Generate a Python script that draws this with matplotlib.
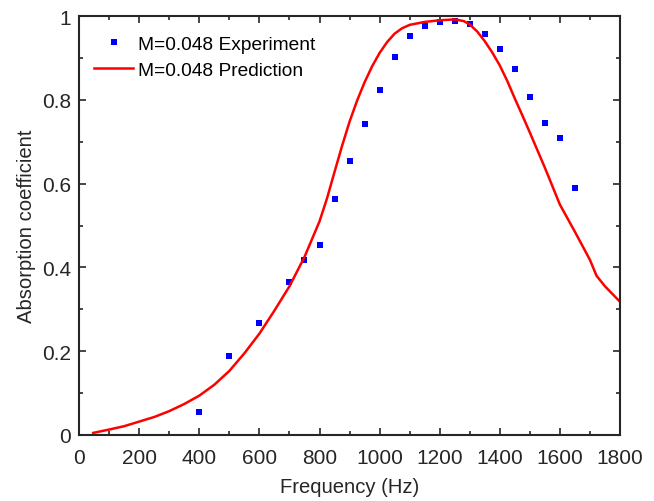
import matplotlib
matplotlib.use('Agg')
from matplotlib import pyplot as plt
from matplotlib.ticker import MultipleLocator
import numpy as np

# measured absorption (M=0.048)
exp_freq = [400, 500, 600, 700, 750, 800, 850, 900, 950, 1000, 1050, 1100,
            1150, 1200, 1250, 1300, 1350, 1400, 1450, 1500, 1550, 1600, 1650]
exp_alpha = [0.055, 0.189, 0.267, 0.365, 0.418, 0.453, 0.563, 0.654, 0.742,
             0.823, 0.902, 0.952, 0.977, 0.986, 0.988, 0.981, 0.957, 0.921,
             0.874, 0.807, 0.745, 0.709, 0.589]

# predicted curve
pred_freq = [47, 100, 150, 200, 250, 300, 350, 400, 450, 500, 550, 600, 650,
             700, 750, 800, 825, 850, 875, 900, 925, 950, 975, 1000, 1025, 1050,
             1075, 1100, 1150, 1200, 1250, 1280, 1300, 1325, 1350, 1375, 1400,
             1425, 1450, 1475, 1500, 1525, 1550, 1600, 1650, 1700, 1722, 1750,
             1800]
pred_alpha = [0.005, 0.013, 0.021, 0.032, 0.043, 0.057, 0.074, 0.094, 0.12,
              0.153, 0.195, 0.242, 0.297, 0.355, 0.425, 0.51, 0.565, 0.628,
              0.69, 0.748, 0.798, 0.842, 0.88, 0.912, 0.938, 0.958, 0.971,
              0.979, 0.986, 0.99, 0.992, 0.988, 0.98, 0.963, 0.94, 0.913,
              0.882, 0.845, 0.803, 0.763, 0.722, 0.68, 0.638, 0.55, 0.485,
              0.418, 0.38, 0.355, 0.318]

plt.rcParams['font.family'] = ['Liberation Sans', 'DejaVu Sans']

fig = plt.figure(figsize=(6.54, 5.02), dpi=100)
ax = fig.add_axes([0.121, 0.1315, 0.827, 0.8345])

ax.plot(exp_freq, exp_alpha, 's', color='#0000ff', markersize=5,
        markeredgewidth=0, label='M=0.048 Experiment')
ax.plot(pred_freq, pred_alpha, '-', color='#ff0000', linewidth=1.8,
        label='M=0.048 Prediction')

ax.set_xlim(0, 1800)
ax.set_ylim(0, 1)
ax.xaxis.set_major_locator(MultipleLocator(200))
ax.xaxis.set_minor_locator(MultipleLocator(100))
ax.set_yticks([0, 0.2, 0.4, 0.6, 0.8, 1.0], ['0', '0.2', '0.4', '0.6', '0.8', '1'])
ax.yaxis.set_minor_locator(MultipleLocator(0.1))

ax.tick_params(which='both', direction='in', top=True, right=True,
               color='#262626', labelsize=15, labelcolor='#262626')
ax.tick_params(which='major', length=5, width=1.2)
ax.tick_params(which='minor', length=3, width=1.2)
ax.tick_params(axis='x', which='both', pad=9.5)
ax.tick_params(axis='y', which='both', pad=6)
for s in ax.spines.values():
    s.set_linewidth(1.5)
    s.set_color('#262626')

ax.set_xlabel('Frequency (Hz)', fontsize=14.6, color='#262626', labelpad=7)
ax.set_ylabel('Absorption coefficient', fontsize=14.6, color='#262626', labelpad=4)

ax.legend(loc='upper left', frameon=False, fontsize=13.8, handlelength=2.0,
          handletextpad=0.25, borderaxespad=0.4, labelspacing=0.45,
          bbox_to_anchor=(0.0, 0.99))

fig.savefig('out.png', dpi=100)
